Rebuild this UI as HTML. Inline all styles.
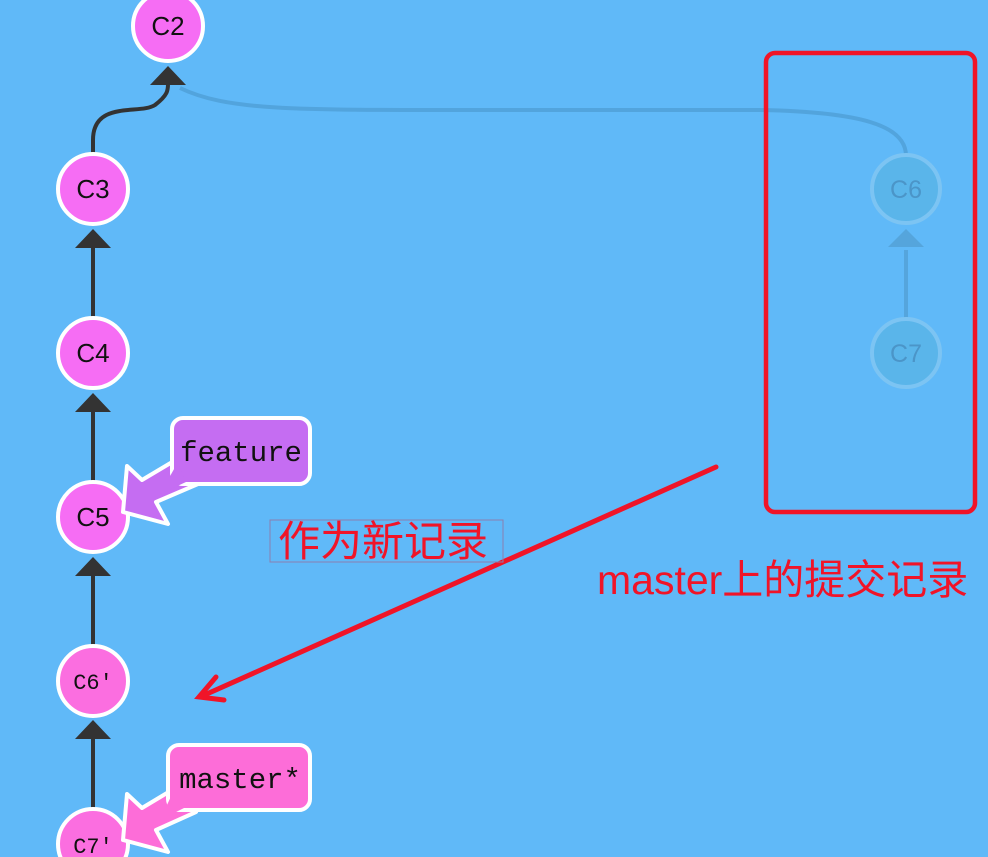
<!DOCTYPE html>
<html><head><meta charset="utf-8"><style>
html,body{margin:0;padding:0;background:#60b9f8;}
svg{display:block}
</style></head><body>
<svg width="988" height="857" viewBox="0 0 988 857" xmlns="http://www.w3.org/2000/svg">
<rect width="988" height="857" fill="#60b9f8"/>
<path d="M180,88 C230,112 300,110 520,110 L760,110 C860,112 906,125 906,156" fill="none" stroke="#4f9fd6" stroke-width="4" opacity="0.8"/>
<line x1="906" y1="250" x2="906" y2="318" stroke="#55a5dc" stroke-width="4"/>
<polygon points="906,229 888,247 924,247" fill="#55a5dc"/>
<circle cx="906" cy="189" r="34" fill="#5ab5ea" stroke="#7cc4f3" stroke-width="4"/>
<circle cx="906" cy="353" r="34" fill="#5ab5ea" stroke="#7cc4f3" stroke-width="4"/>
<g font-family="Liberation Sans, sans-serif" font-size="25" fill="#4b95c8" text-anchor="middle">
<text x="906" y="198">C6</text><text x="906" y="362">C7</text>
</g>
<g stroke="#333" stroke-width="4" fill="none">
<path d="M93,153 L93,140 C93,100 140,115 155,105 C168,95 168,90 168,84"/>
<line x1="93" y1="246" x2="93" y2="318"/>
<line x1="93" y1="410" x2="93" y2="482"/>
<line x1="93" y1="574" x2="93" y2="646"/>
<line x1="93" y1="738" x2="93" y2="808"/>
</g>
<g fill="#333">
<polygon points="168,66 150,85 186,85"/>
<polygon points="93,229 75,248 111,248"/>
<polygon points="93,393 75,412 111,412"/>
<polygon points="93,557 75,576 111,576"/>
<polygon points="93,720 75,739 111,739"/>
</g>
<g stroke="#fff" stroke-width="4">
<circle cx="168" cy="26" r="35" fill="#f66df4"/>
<circle cx="93" cy="189" r="35" fill="#f66df4"/>
<circle cx="93" cy="353" r="35" fill="#f66df4"/>
<circle cx="93" cy="517" r="35" fill="#f66df4"/>
<circle cx="93" cy="681" r="35" fill="#fb6ee0"/>
<circle cx="93" cy="844" r="35" fill="#fb6ee0"/>
</g>
<g font-family="Liberation Sans, DejaVu Sans, sans-serif" font-size="26" fill="#111" text-anchor="middle">
<text x="168" y="35">C2</text><text x="93" y="198">C3</text><text x="93" y="362">C4</text><text x="93" y="526">C5</text>
</g>
<g font-family="Liberation Mono, monospace" font-size="22" fill="#111" text-anchor="middle">
<text x="93" y="689">C6'</text><text x="93" y="853">C7'</text>
</g>
<!-- feature label -->
<polygon points="123,512 127,466 142,480 184,455 198,484 156,502 168,524" fill="#c56df2" stroke="#fff" stroke-width="4" stroke-linejoin="round"/>
<rect x="172" y="418" width="138" height="66" rx="11" fill="#c56df2" stroke="#fff" stroke-width="4"/>
<polygon points="178,462 186,482 160,494" fill="#c56df2"/>
<text x="241" y="461" font-family="Liberation Mono, DejaVu Sans Mono, monospace" font-size="29" fill="#111" text-anchor="middle">feature</text>
<!-- master label -->
<polygon points="123,840 127,794 142,808 182,784 196,812 156,830 168,852" fill="#fd6dd8" stroke="#fff" stroke-width="4" stroke-linejoin="round"/>
<rect x="168" y="745" width="142" height="65" rx="11" fill="#fd6dd8" stroke="#fff" stroke-width="4"/>
<polygon points="174,790 184,808 160,820" fill="#fd6dd8"/>
<text x="240" y="788" font-family="Liberation Mono, DejaVu Sans Mono, monospace" font-size="29" fill="#111" text-anchor="middle">master*</text>
<rect x="766" y="53" width="209" height="459" rx="9" fill="none" stroke="#f01428" stroke-width="4.5"/>
<g stroke="#f01428" stroke-width="5" stroke-linecap="round" fill="none">
<line x1="716" y1="467" x2="200" y2="697"/>
<polyline points="216,677 199,697 224,700"/>
</g>
<rect x="270" y="520" width="233" height="42" fill="none" stroke="#8a7fb0" stroke-width="1"/>
<text x="278" y="556" font-family="Liberation Sans, Noto Sans CJK SC, sans-serif" font-size="42" fill="#f01428">作为新记录</text>
<text x="597" y="594" font-family="Liberation Sans, Noto Sans CJK SC, sans-serif" font-size="41" fill="#f01428">master上的提交记录</text>
</svg>
</body></html>
